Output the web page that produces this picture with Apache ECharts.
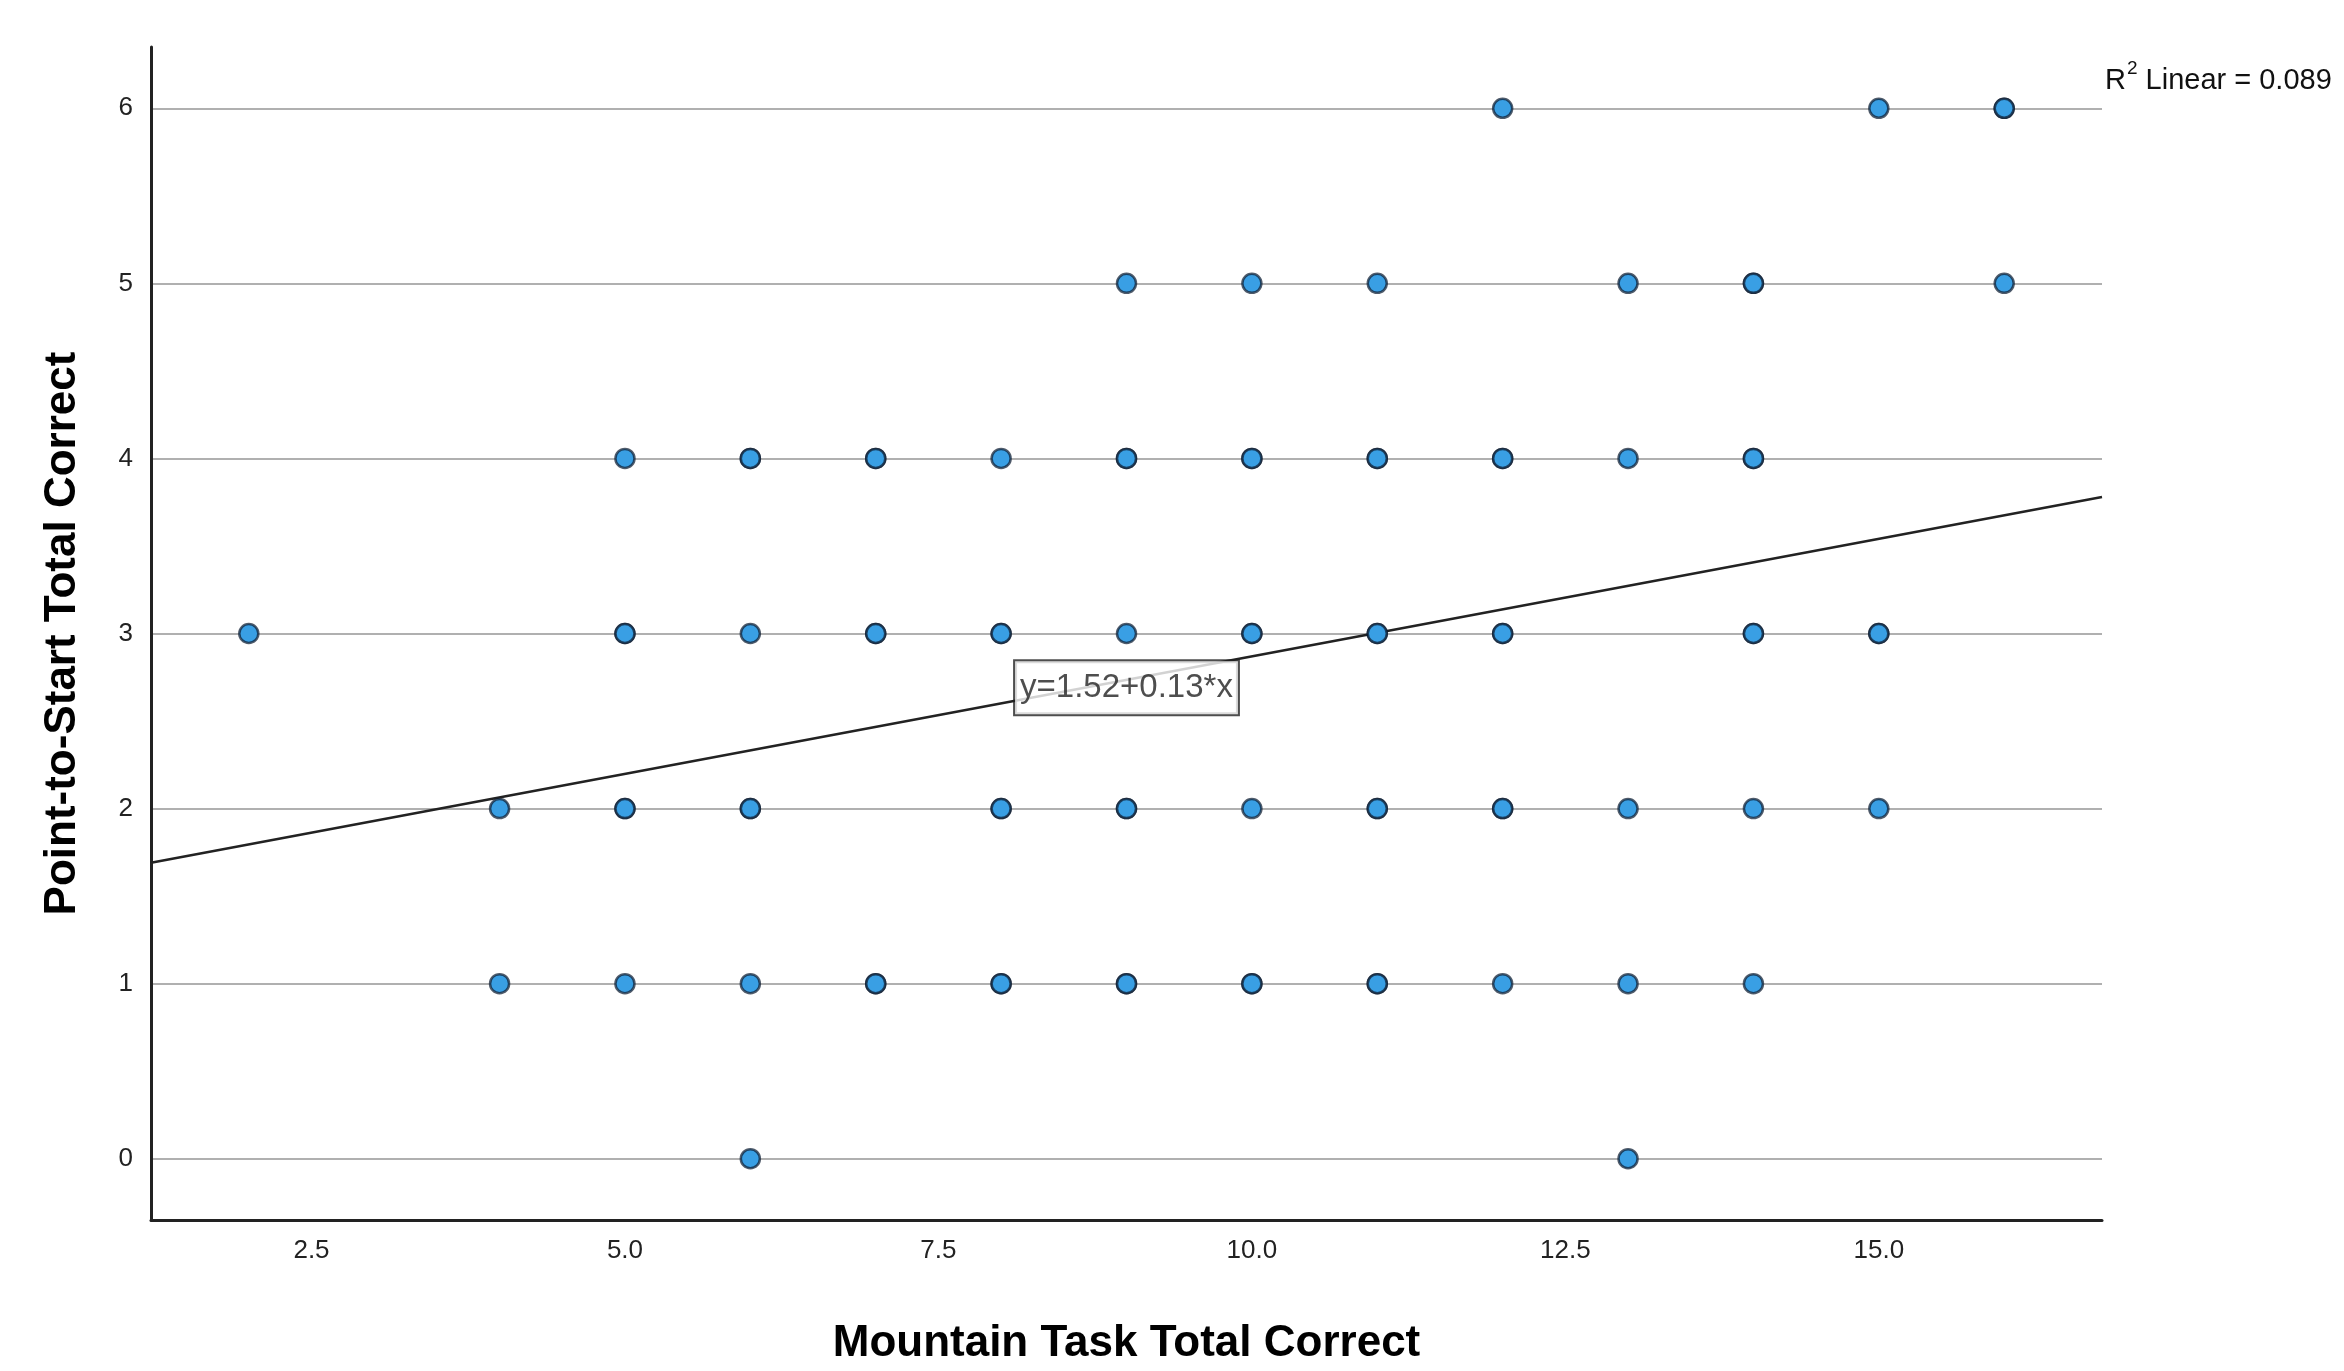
<!DOCTYPE html>
<html>
<head>
<meta charset="utf-8">
<script src="https://cdn.jsdelivr.net/npm/echarts@6/dist/echarts.min.js"></script>
<style>
  html, body { margin: 0; padding: 0; background: #fff; overflow: hidden; }
  #chart { width: 2344px; height: 1371px; }
</style>
</head>
<body>
<div id="chart"></div>
<script>
// ---- data ----
const xTitle = 'Mountain Task Total Correct';
const yTitle = 'Point-to-Start Total Correct';
const xTickValues = [2.5, 5.0, 7.5, 10.0, 12.5, 15.0];
const yTickValues = [0, 1, 2, 3, 4, 5, 6];

// Mountain Task Total Correct (x) and Point-to-Start Total Correct (y), one entry per case
const mountainCorrect = [
  12, 15, 16, 16,
  9, 10, 11, 13, 14, 14, 16,
  5, 6, 6, 7, 7, 8, 9, 9, 10, 10, 11, 11, 12, 12, 13, 14, 14,
  2, 5, 5, 6, 7, 7, 8, 8, 9, 10, 10, 11, 11, 12, 12, 14, 14, 15, 15,
  4, 5, 5, 6, 6, 8, 8, 9, 9, 10, 11, 11, 12, 12, 13, 14, 15,
  4, 5, 6, 7, 7, 8, 8, 9, 9, 10, 10, 11, 11, 12, 13, 14,
  6, 13
];
const pointToStartCorrect = [
  6, 6, 6, 6,
  5, 5, 5, 5, 5, 5, 5,
  4, 4, 4, 4, 4, 4, 4, 4, 4, 4, 4, 4, 4, 4, 4, 4, 4,
  3, 3, 3, 3, 3, 3, 3, 3, 3, 3, 3, 3, 3, 3, 3, 3, 3, 3, 3,
  2, 2, 2, 2, 2, 2, 2, 2, 2, 2, 2, 2, 2, 2, 2, 2, 2,
  1, 1, 1, 1, 1, 1, 1, 1, 1, 1, 1, 1, 1, 1, 1, 1,
  0, 0
];

// fit line end points (at the plot edges) and annotation
const fitLineX = [1.22, 16.78];
const fitLineY = [1.69, 3.78];
const fitEquation = 'y=1.52+0.13*x';
const fitLabelAt = [9.0, 2.69];
const rSquaredText = 'Linear = 0.089';

const xRange = [1.22, 16.78];
const yRange = [-0.35, 6.35];

// ---- build chart ----
const points = mountainCorrect.map((x, i) => [x, pointToStartCorrect[i]]);
const linePoints = fitLineX.map((x, i) => [x, fitLineY[i]]);
const FONT = "'Liberation Sans', Arial, sans-serif";

const chart = echarts.init(document.getElementById('chart'), null, { renderer: 'canvas' });
chart.setOption({
  animation: false,
  backgroundColor: '#ffffff',
  textStyle: { fontFamily: FONT },
  title: {
    left: 2100,
    top: 54,
    text: '{a|R}{s|2}{a| ' + rSquaredText + '}',
    textStyle: {
      fontWeight: 'normal',
      rich: {
        a: { fontFamily: FONT, fontSize: 29, fontWeight: 'normal', color: '#111', lineHeight: 36, verticalAlign: 'bottom' },
        s: { fontFamily: FONT, fontSize: 19, fontWeight: 'normal', color: '#111', lineHeight: 36, verticalAlign: 'top', padding: [0, 0, 11, 1] }
      }
    }
  },
  grid: { left: 151, right: 242, top: 47, bottom: 125, containLabel: false },
  xAxis: {
    type: 'value',
    min: xRange[0],
    max: xRange[1],
    name: xTitle,
    nameLocation: 'middle',
    nameGap: 102,
    nameTextStyle: { fontFamily: FONT, fontSize: 44, fontWeight: 'bold', color: '#000' },
    axisLine: { show: true, onZero: false, lineStyle: { color: '#222', width: 3 } },
    axisTick: { show: false, customValues: xTickValues },
    splitLine: { show: false },
    axisLabel: {
      customValues: xTickValues,
      formatter: v => Number(v).toFixed(1),
      fontFamily: FONT, fontSize: 26, color: '#222', margin: 18
    }
  },
  yAxis: {
    type: 'value',
    min: yRange[0],
    max: yRange[1],
    name: yTitle,
    nameLocation: 'middle',
    nameGap: 66,
    nameRotate: 90,
    nameTextStyle: { fontFamily: FONT, fontSize: 44, fontWeight: 'bold', color: '#000' },
    axisLine: { show: true, onZero: false, lineStyle: { color: '#222', width: 3 } },
    axisTick: { show: false, customValues: yTickValues },
    splitLine: { show: true, lineStyle: { color: '#b0b0b0', width: 2 } },
    axisLabel: {
      customValues: yTickValues,
      formatter: v => String(Math.round(v)),
      fontFamily: FONT, fontSize: 26, color: '#222', margin: 18
    }
  },
  series: [
    {
      type: 'line',
      data: linePoints,
      symbol: 'none',
      lineStyle: { color: '#222', width: 2.5 },
      z: 2,
      silent: true
    },
    {
      type: 'scatter',
      data: points,
      symbol: 'circle',
      symbolSize: 19,
      itemStyle: { color: '#399FE4', borderColor: 'rgba(12,28,48,0.72)', borderWidth: 2.5, opacity: 1 },
      z: 3,
      silent: true
    },
    {
      type: 'scatter',
      data: [fitLabelAt],
      symbolSize: 0,
      z: 5,
      silent: true,
      label: {
        show: true,
        position: 'inside',
        formatter: fitEquation,
        fontFamily: FONT,
        fontSize: 33,
        color: '#222',
        backgroundColor: '#fff',
        borderColor: '#222',
        borderWidth: 2,
        padding: [11, 5, 9, 5]
      }
    }
  ]
});
</script>
</body>
</html>
